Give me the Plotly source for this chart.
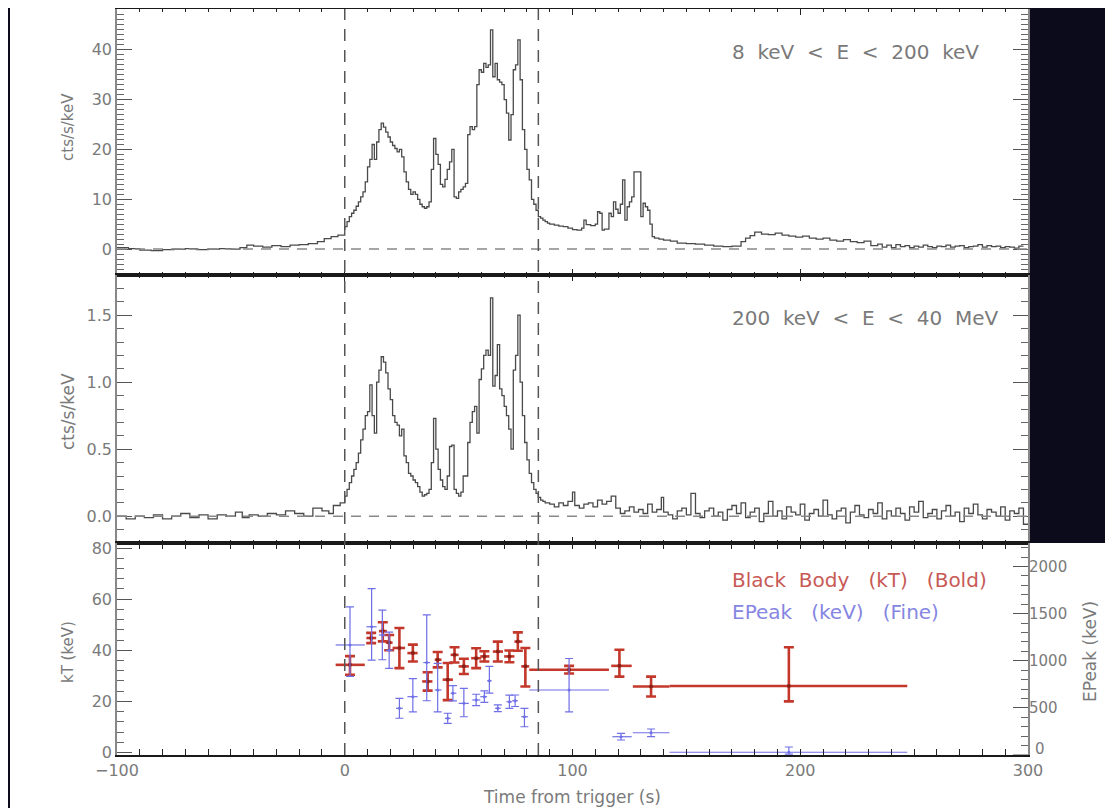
import plotly.graph_objects as go

# ---------------- data ----------------
# top panel light curve (8 keV - 200 keV): bin left edges (s) and rates (cts/s/keV)
top_t = [-100, -95, -90, -85, -80, -75, -70, -65, -60, -55, -50, -46, -43, -40, -36, -32, -28, -24, -20, -16,
         -12, -9, -6, -3, 0, 1, 2, 3, 4, 5, 6, 7, 8, 9, 10, 11, 12, 13, 14, 15, 16, 17, 18, 19, 20, 21, 22, 23,
         24, 25, 26, 27, 28, 29, 30, 31, 32, 33, 34, 35, 36, 37, 38, 39, 40, 41, 42, 43, 44, 45, 46, 47, 48, 49,
         50, 51, 52, 53, 54, 55, 56, 57, 58, 59, 60, 61, 62, 63, 64, 65, 66, 67, 68, 69, 70, 71, 72, 73, 74, 75,
         76, 77, 78, 79, 80, 81, 82, 83, 84, 85, 86, 87, 88, 89, 90, 92, 94, 96, 98, 100, 102, 104, 105, 106, 108,
         110, 111, 112, 113, 114, 116, 117, 118, 119, 120, 121, 122, 123, 124, 125, 126, 127, 130, 131, 132, 133,
         134, 135, 136, 138, 140, 143, 146, 150, 154, 158, 162, 166, 170, 174, 176, 178, 180, 183, 186, 189, 192,
         195, 198, 201, 204, 207, 210, 213, 216, 219, 222, 225, 228, 231, 234, 236, 238, 240, 242, 244, 246, 248,
         250, 252, 254, 256, 258, 260, 262, 264, 266, 268, 270, 272, 274, 276, 278, 280, 282, 284, 286, 288, 290,
         292, 294, 296, 298, 300]
top_v = [0.3, 0.1, -0.2, -0.3, -0.1, 0.0, 0.1, -0.1, 0.0, 0.1, 0.0, 0.3, 0.8, 0.6, 0.4, 0.7, 0.5, 0.8, 0.9, 1.1,
         1.5, 2.1, 2.5, 2.8, 4.5, 5.5, 6.5, 7.2, 7.8, 8.6, 9.5, 10.5, 11.5, 13.5, 16.5, 18.0, 21.0, 18.0, 21.5,
         24.0, 25.3, 24.5, 23.5, 22.5, 21.5, 20.8, 20.2, 19.5, 20.0, 18.5, 15.5, 13.5, 12.0, 11.0, 11.5, 11.0,
         10.0, 9.0, 8.5, 8.2, 8.5, 9.5, 16.0, 22.2, 19.0, 17.0, 13.0, 12.5, 14.0, 16.0, 17.5, 20.0, 10.5, 10.2,
         11.5, 12.0, 12.5, 13.2, 23.0, 24.6, 24.0, 24.6, 33.0, 36.0, 35.5, 37.3, 36.5, 37.0, 44.0, 34.6, 37.3,
         34.0, 33.5, 33.0, 30.0, 27.3, 21.9, 27.0, 36.0, 37.0, 42.0, 34.0, 24.0, 20.0, 16.0, 13.9, 10.0, 9.0,
         7.8, 6.5, 6.2, 5.8, 5.5, 5.2, 5.0, 4.8, 4.6, 4.5, 4.2, 3.9, 3.8, 4.2, 5.8, 4.9, 4.7, 5.0, 7.5, 7.2, 3.8,
         4.0, 7.2, 6.5, 9.5, 8.0, 7.2, 9.0, 13.9, 5.8, 8.5, 9.5, 10.5, 15.5, 6.5, 9.2, 8.5, 7.8, 5.0, 2.5, 2.2,
         2.0, 1.8, 1.6, 1.2, 1.1, 1.0, 0.8, 0.6, 0.5, 0.6, 1.5, 2.2, 2.7, 3.4, 3.0, 2.9, 3.2, 2.8, 2.6, 2.4, 2.6,
         2.2, 2.0, 2.2, 1.8, 1.6, 1.9, 1.5, 1.3, 1.6, 0.7, 1.0, 0.4, 0.8, 0.3, 0.9, 0.5, 0.7, 0.3, 0.6, 0.4, 0.8,
         0.5, 0.3, 0.6, 0.5, 0.8, 0.4, 0.6, 0.7, 0.3, 0.5, 0.6, 0.9, 0.4, 0.7, 0.5, 0.6, 0.3, 0.5, 0.4, 0.2, 0.6,
         0.6]

# middle panel light curve (200 keV - 40 MeV)
mid_t_early = [-100, -96, -92, -88, -84, -80, -76, -72, -68, -64, -60, -56, -52, -48, -45, -42, -38, -34, -30,
               -26, -22, -18, -14, -10, -7, -5, -2, 0, 1, 2, 3, 4, 5, 6, 7, 8, 9, 10, 11, 12, 13, 14, 15, 16, 17,
               18, 19, 20, 21, 22, 23, 24, 25, 26, 27, 28, 29, 30, 31, 32, 33, 34, 35, 36, 37, 38, 39, 40, 41, 42,
               43, 44, 45, 46, 47, 48, 49, 50, 51, 52, 53, 54, 55, 56, 57, 58, 59, 60, 61, 62, 63, 64, 65, 66, 67,
               68, 69, 70, 71, 72, 73, 74, 75, 76, 77, 78, 79, 80, 81, 82, 83, 84, 85, 86, 87, 88, 90, 92, 94, 96,
               98, 100, 101, 103, 105, 107, 109, 111, 113, 115, 117, 119, 121, 123, 125, 127, 129, 131, 133, 135,
               137, 139, 140, 142, 144, 146, 148]
mid_v_early = [0.00, -0.02, 0.00, -0.01, 0.01, -0.02, 0.00, 0.02, -0.01, 0.01, -0.02, 0.01, 0.00, 0.03, -0.01,
               0.01, 0.00, 0.02, 0.01, 0.04, 0.02, 0.00, 0.06, 0.04, 0.02, 0.08, 0.10, 0.15, 0.20, 0.25, 0.30,
               0.35, 0.40, 0.47, 0.57, 0.65, 0.75, 0.78, 0.98, 0.75, 0.62, 1.00, 1.09, 1.19, 1.15, 1.07, 0.95,
               0.87, 0.75, 0.70, 0.68, 0.60, 0.65, 0.45, 0.40, 0.32, 0.30, 0.27, 0.25, 0.22, 0.18, 0.15, 0.16,
               0.17, 0.20, 0.40, 0.73, 0.50, 0.35, 0.27, 0.22, 0.20, 0.30, 0.52, 0.53, 0.20, 0.17, 0.15, 0.18,
               0.30, 0.30, 0.55, 0.70, 0.78, 0.82, 0.62, 1.02, 1.10, 1.20, 1.24, 1.20, 1.63, 0.97, 1.05, 1.28,
               0.95, 0.90, 0.82, 0.75, 0.65, 0.50, 1.09, 1.20, 1.50, 1.00, 0.75, 0.55, 0.42, 0.32, 0.25, 0.20,
               0.17, 0.14, 0.12, 0.11, 0.10, 0.09, 0.07, 0.10, 0.08, 0.11, 0.18, 0.08, 0.06, 0.09, 0.10, 0.07,
               0.12, 0.09, 0.11, 0.15, 0.06, 0.02, 0.04, 0.07, 0.03, 0.05, 0.02, 0.09, 0.03, 0.05, 0.14, 0.03,
               0.01, -0.02, 0.04, 0.06]
mid_t_late = list(range(150, 302, 2))
mid_v_late = [0.01, 0.17, 0.02, -0.01, 0.04, 0.06, 0.00, 0.03, -0.03, 0.05, 0.08, 0.02, 0.10, -0.01, 0.03, 0.06,
              -0.04, 0.02, 0.11, 0.00, 0.04, -0.02, 0.07, 0.03, 0.01, 0.09, -0.03, 0.02, 0.05, 0.00, 0.12, 0.01,
              -0.02, 0.04, 0.06, -0.05, 0.03, 0.08, 0.01, -0.01, 0.05, 0.02, 0.10, -0.02, 0.04, 0.00, 0.06, 0.02,
              -0.03, 0.07, 0.03, 0.11, -0.01, 0.02, 0.05, -0.02, 0.04, 0.08, 0.00, 0.03, -0.04, 0.06, 0.02, 0.09,
              0.01, -0.02, 0.05, 0.03, 0.00, 0.07, -0.03, 0.04, 0.02, 0.06, -0.06, -0.06]

# bottom panel: black-body kT (keV) with bin edges and asymmetric errors
kt_t = [2.3, 11.6, 16.7, 19.5, 24.0, 29.9, 36.4, 40.8, 45.2, 48.2, 52.3, 57.7, 61.3, 67.2, 72.3, 76.0, 79.3,
        98.5, 120.6, 134.5, 195.0]
kt_lo = [-4, 9.5, 15, 18, 21, 27.5, 34, 39.5, 43, 46.5, 50, 55.5, 59.5, 65, 70, 74.5, 77.5, 81, 117, 126.5, 142.6]
kt_hi = [8.8, 13.8, 18.5, 21, 26.5, 32, 38.5, 42.5, 47.5, 50, 54.5, 60, 63.5, 69.5, 74.5, 78, 81, 116, 126,
         142.6, 247]
kt = [34.3, 44.8, 47.5, 43.0, 40.9, 38.9, 27.8, 36.3, 28.5, 38.2, 33.7, 36.9, 37.6, 39.5, 37.6, 43.4, 33.7,
      32.4, 33.9, 25.8, 26.0]
kt_up = [3.4, 2.0, 3.5, 3.0, 7.8, 3.3, 3.6, 3.0, 6.5, 3.0, 3.0, 3.9, 2.0, 3.9, 2.3, 3.6, 7.2, 1.5, 6.3, 3.9, 15.2]
kt_dn = [3.9, 2.0, 4.0, 3.0, 7.9, 3.3, 3.6, 3.0, 8.0, 3.0, 3.0, 3.9, 2.0, 3.9, 2.3, 3.6, 7.9, 1.5, 4.2, 3.9, 6.0]

# bottom panel: EPeak (keV)
ep_t = [2.3, 11.8, 16.5, 19.5, 24.0, 29.9, 36.0, 40.8, 45.2, 47.5, 52.3, 57.7, 61.3, 63.5, 67.2, 72.3, 74.8,
        78.9, 98.5, 121.3, 134.5, 195.0]
ep_lo = [-4, 9.5, 15, 18, 22.5, 27.5, 34.5, 39.5, 44, 46.5, 50, 56, 59.5, 62.5, 66, 71, 73.5, 77.5, 81, 117.5,
         126.5, 142.6]
ep_hi = [8.8, 14, 18, 21, 25.5, 32, 37.5, 42.5, 46.5, 49, 54.5, 59.5, 62.5, 64.5, 68.5, 73.5, 76, 80.5, 116,
         126, 142.6, 247]
ep = [1168, 1361, 1274, 1112, 496, 619, 981, 690, 389, 656, 548, 584, 619, 788, 496, 565, 576, 406, 690, 194,
      236, 29]
ep_up = [405, 405, 263, 192, 106, 192, 506, 283, 54, 81, 159, 61, 61, 152, 35, 71, 61, 89, 334, 35, 40, 56]
ep_dn = [334, 354, 263, 192, 106, 162, 405, 233, 53, 81, 142, 61, 61, 132, 35, 71, 61, 106, 233, 35, 40, 20]
ep_ticks = [500, 1000, 1500, 2000]

trigger_lines = [0, 85]
NB = "\u00a0"
top_label = (NB * 2).join(["8", "keV", "<", "E", "<", "200", "keV"])
mid_label = (NB * 2).join(["200", "keV", "<", "E", "<", "40", "MeV"])
bb_label = "Black" + NB * 2 + "Body" + NB * 3 + "(kT)" + NB * 3 + "(Bold)"
ep_label = "EPeak" + NB * 3 + "(keV)" + NB * 3 + "(Fine)"

# ---------------- figure ----------------
W, H = 1113, 808
OFF = 8  # page offset of the plot div in the browser window
def px_x(p):
    return (p - OFF) / W
def px_y(p):
    return 1 - (p - OFF) / H

XD = [px_x(117), px_x(1028)]
D_TOP = [px_y(275), px_y(9)]
D_MID = [px_y(543), px_y(275)]
D_BOT = [px_y(755), px_y(543)]

CURVE = "#4a4a4a"
RED = "#c4382c"
BLUE = "#6f6fe6"
GREY = "#7a7a7a"
FONT = "DejaVu Sans"

fig = go.Figure()

fig.add_trace(go.Scatter(x=top_t, y=top_v, mode="lines", line=dict(color=CURVE, width=1.3, shape="hv"),
                         xaxis="x", yaxis="y", showlegend=False))
fig.add_trace(go.Scatter(x=mid_t_early + mid_t_late, y=mid_v_early + mid_v_late, mode="lines",
                         line=dict(color=CURVE, width=1.3, shape="hv"), xaxis="x2", yaxis="y2", showlegend=False))

ep_xp = [h - c for h, c in zip(ep_hi, ep_t)]
ep_xm = [c - l for c, l in zip(ep_t, ep_lo)]
fig.add_trace(go.Scatter(x=ep_t, y=ep, mode="markers", marker=dict(size=3, color=BLUE),
                         error_y=dict(type="data", array=ep_up, arrayminus=ep_dn, color=BLUE, thickness=1.2, width=4),
                         error_x=dict(type="data", array=ep_xp, arrayminus=ep_xm, color=BLUE, thickness=1.2, width=0),
                         xaxis="x3", yaxis="y4", showlegend=False, cliponaxis=False))

kt_xp = [h - c for h, c in zip(kt_hi, kt_t)]
kt_xm = [c - l for c, l in zip(kt_t, kt_lo)]
fig.add_trace(go.Scatter(x=kt_t, y=kt, mode="markers", marker=dict(size=4, color="#8a2018"),
                         error_y=dict(type="data", array=kt_up, arrayminus=kt_dn, color=RED, thickness=2.6, width=5),
                         error_x=dict(type="data", array=kt_xp, arrayminus=kt_xm, color=RED, thickness=2.6, width=0),
                         xaxis="x3", yaxis="y3", showlegend=False))

tickfont = dict(family=FONT, size=16, color=GREY)

def xax(anchor, labels):
    return dict(domain=XD, anchor=anchor, range=[-100, 300], dtick=100, tick0=0, ticks="inside", ticklen=6,
                tickcolor="#222", mirror="allticks", showline=True, linecolor="#1a1a1a", linewidth=2,
                showgrid=False, zeroline=False, showticklabels=labels, tickfont=tickfont, automargin=False,
                minor=dict(dtick=10, ticks="inside", ticklen=3, tickcolor="#222"))

def yax(dom, anchor, rng, dtick, mdtick, fmt=None, mirror="allticks"):
    d = dict(domain=dom, anchor=anchor, range=rng, dtick=dtick, tick0=0, ticks="inside", ticklen=15,
             tickcolor="#555", mirror=mirror, showline=True, linecolor="#888", linewidth=1.5, showgrid=False,
             zeroline=False, tickfont=tickfont, automargin=False,
             minor=dict(dtick=mdtick, tick0=0, ticks="inside", ticklen=7, tickcolor="#666"))
    if fmt:
        d["tickformat"] = fmt
    return d

fig.update_layout(
    width=W, height=H, margin=dict(l=0, r=0, t=0, b=0, pad=0, autoexpand=False),
    paper_bgcolor="#0b0b1c", plot_bgcolor="white",
    xaxis=xax("y", False), xaxis2=xax("y2", False), xaxis3=xax("y3", True),
    yaxis=yax(D_TOP, "x", [-5.2, 48.2], 10, 1),
    yaxis2=yax(D_MID, "x2", [-0.2, 1.8], 0.5, 0.1, ".1f"),
    yaxis3=yax(D_BOT, "x3", [-1, 82], 20, 4, mirror=True),
    yaxis4=dict(domain=D_BOT, anchor="x3", overlaying="y3", side="right", range=[0, 2250],
                tickmode="array", tickvals=ep_ticks,
                ticks="inside", ticklen=15, tickcolor="#555", showline=False, showgrid=False, zeroline=False,
                tickfont=dict(family=FONT, size=15, color=GREY), automargin=False,
                minor=dict(dtick=100, tick0=0, ticks="inside", ticklen=7, tickcolor="#666")),
)
fig.update_xaxes(matches="x")

shapes = [
    dict(type="rect", xref="paper", yref="paper", x0=px_x(10), x1=px_x(1030), y0=-0.02, y1=px_y(8),
         fillcolor="white", line=dict(width=0), layer="below"),
    dict(type="rect", xref="paper", yref="paper", x0=px_x(1030), x1=1.01, y0=-0.02, y1=px_y(543),
         fillcolor="white", line=dict(width=0), layer="below"),
    dict(type="line", xref="x", yref="y", x0=-100, x1=300, y0=0, y1=0, line=dict(color="#888", width=1.5, dash="10px,8px")),
    dict(type="line", xref="x2", yref="y2", x0=-100, x1=300, y0=0, y1=0, line=dict(color="#888", width=1.5, dash="10px,8px")),
    dict(type="line", xref="paper", yref="y4", x0=XD[1] - 15 / W, x1=XD[1], y0=0, y1=0, line=dict(color="#555", width=1)),
]
for tl in trigger_lines:
    shapes.append(dict(type="line", xref="x", yref="paper", x0=tl, x1=tl, y0=D_BOT[0], y1=D_TOP[1],
                       line=dict(color="#555", width=1.5, dash="12px,9px")))
fig.update_layout(shapes=shapes)

ann = []
def label(text, x, y, color=GREY, size=20, angle=0, xanchor="left"):
    ann.append(dict(text=text, xref="paper", yref="paper", x=px_x(x), y=px_y(y), showarrow=False,
                    xanchor=xanchor, yanchor="middle", textangle=angle,
                    font=dict(family=FONT, size=size, color=color)))

label(top_label, 730, 52)
label(mid_label, 730, 318)
label(bb_label, 730, 580, color="#c85a56")
label(ep_label, 730, 612, color="#8686e2")
label("cts/s/keV", 68, 127, size=15, angle=-90, xanchor="center")
label("cts/s/keV", 68, 412, size=17, angle=-90, xanchor="center")
label("kT (keV)", 68, 652, size=15, angle=-90, xanchor="center")
label("EPeak (keV)", 1090, 652, size=17, angle=-90, xanchor="center")
label("Time from trigger (s)", 572, 797, size=17, xanchor="center")
label("0", 1033, 749, size=15)
fig.update_layout(annotations=ann)

fig.write_html("out.html")
